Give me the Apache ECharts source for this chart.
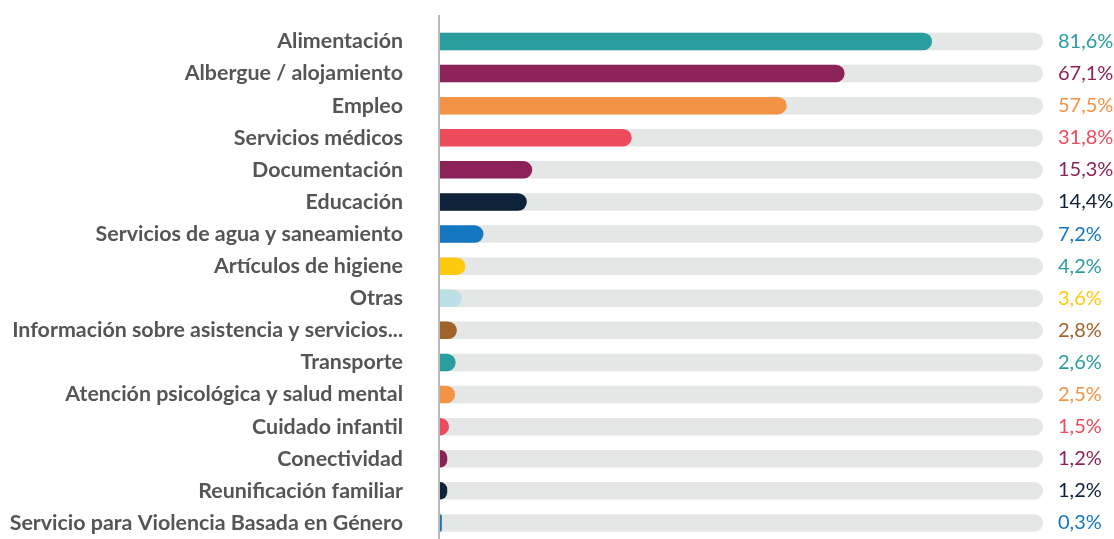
<!DOCTYPE html>
<html><head><meta charset="utf-8">
<script src="https://cdn.jsdelivr.net/npm/echarts@6/dist/echarts.min.js"></script>
<style>html,body{margin:0;padding:0;background:#fff}#c{width:1114px;height:539px}</style>
</head><body><div id="c"></div>
<script>
const categories = ["Alimentación","Albergue / alojamiento","Empleo","Servicios médicos","Documentación","Educación","Servicios de agua y saneamiento","Artículos de higiene","Otras","Información sobre asistencia y servicios...","Transporte","Atención psicológica y salud mental","Cuidado infantil","Conectividad","Reunificación familiar","Servicio para Violencia Basada en Género"];
const values = [81.6,67.1,57.5,31.8,15.3,14.4,7.2,4.2,3.6,2.8,2.6,2.5,1.5,1.2,1.2,0.3];
const barColors = ["#2A9D9F","#8B2359","#F39345","#EB4B5C","#8B2359","#0D2238","#1677C1","#FFC90E","#BDE0E6","#A0632A","#2A9D9F","#F39345","#EB4B5C","#8B2359","#0D2238","#1677C1"];
const labelColors = ["#2A9D9F","#8B2359","#F39345","#EB4B5C","#8B2359","#0D2238","#1677C1","#2A9D9F","#FFC90E","#A0632A","#2A9D9F","#F39345","#EB4B5C","#8B2359","#0D2238","#1677C1"];
const axisMax = 100;

const fmt = v => v.toFixed(1).replace('.', ',') + '%';
const chart = echarts.init(document.getElementById('c'), null, {renderer:'canvas'});
chart.setOption({
  animation:false,
  grid:{left:440, right:71, top:25.4, bottom:-2.7, containLabel:false},
  xAxis:{type:'value', min:0, max:axisMax, show:false},
  yAxis:{type:'category', data:categories, inverse:true,
    axisLine:{show:false}, axisTick:{show:false},
    axisLabel:{margin:37, color:'#555555', fontFamily:'Lato', fontWeight:'bold', fontSize:21.4}},
  graphic:[{type:'line', shape:{x1:439, y1:15, x2:439, y2:539}, style:{stroke:'#BBBBBB', lineWidth:2}}],
  series:[
    {type:'bar', barWidth:17.5, silent:true, z:1,
     data: values.map((v,i)=>({value:axisMax, label:{color:labelColors[i]}})),
     itemStyle:{color:'#E4E7E6', borderRadius:[0,9,9,0]},
     label:{show:true, position:'right', distance:15, fontFamily:'Lato', fontSize:20,
       formatter:p=>fmt(values[p.dataIndex])}},
    {type:'bar', barWidth:17.5, barGap:'-100%', z:2,
     data: values.map((v,i)=>({value:v, itemStyle:{color:barColors[i]}})),
     itemStyle:{borderRadius:[0,9,9,0]}}
  ]
});
</script></body></html>
